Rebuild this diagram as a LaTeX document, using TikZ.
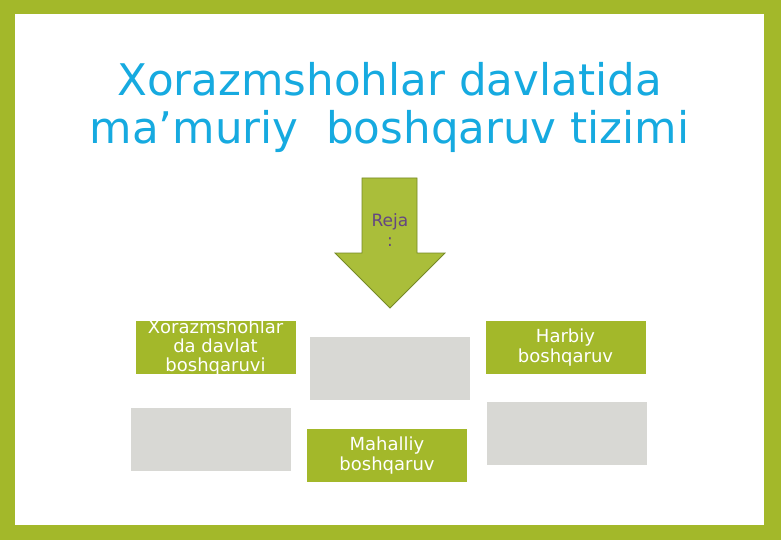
\documentclass[tikz,border=0pt]{standalone}
\usepackage{fontspec}
\setmainfont{DejaVu Sans}
\usetikzlibrary{positioning}

\definecolor{framegreen}{RGB}{163,184,42}
\definecolor{arrowgreen}{RGB}{170,190,58}
\definecolor{arrowline}{RGB}{118,138,38}
\definecolor{boxgray}{RGB}{216,216,212}
\definecolor{titleblue}{RGB}{22,170,224}
\definecolor{rejapurple}{RGB}{100,70,130}

\tikzset{
  greenbox/.style={fill=framegreen, minimum width=160pt, minimum height=53pt, inner sep=0pt},
  graybox/.style={fill=boxgray, minimum width=160pt, minimum height=63pt, inner sep=0pt},
  boxtext/.style={text=white, align=center, inner sep=0pt, font=\fontsize{18}{19.2}\selectfont}
}

\begin{document}
\begin{tikzpicture}[x=1pt, y=-1pt]
    \useasboundingbox (0,0) rectangle (781,540);
    % green frame, white sheet inside
    \fill[framegreen] (0,0) rectangle (781,540);
    \fill[white] (15,14) rectangle (764,525);

    % title (base is the last line)
    \node[text=titleblue, align=center, inner sep=0pt, anchor=base,
          font=\fontsize{43.6}{48}\selectfont] (title) at (389.5,144)
      {Xorazmshohlar davlatida\\ma’muriy\ \ boshqaruv tizimi};

    % arrow pointing down
    \draw[fill=arrowgreen, draw=arrowline, line width=0.8pt]
      (362,178) -- (417,178) -- (417,253) -- (445,253) -- (390,308)
      -- (335,253) -- (362,253) -- cycle;
    \node[text=rejapurple, align=center, inner sep=0pt,
          font=\fontsize{17}{20}\selectfont] (reja) at (390,230) {Reja\\:};

    % boxes
    %% top row
    \node[greenbox, label={[boxtext]center:Xorazmshohlar\\da davlat\\boshqaruvi}] (davlat) at (215.5,347.5) {};
    \node[graybox] (blankmid) at (390,368) {};
    \node[greenbox, label={[boxtext]center:Harbiy\\boshqaruv}] (harbiy) at (565.5,347.5) {};
    %% bottom row
    \node[graybox] (blankleft) at (211,439.5) {};
    \node[greenbox, label={[boxtext]center:Mahalliy\\boshqaruv}] (mahalliy) at (387,455.5) {};
    \node[graybox] (blankright) at (567,433.5) {};
\end{tikzpicture}
\end{document}
